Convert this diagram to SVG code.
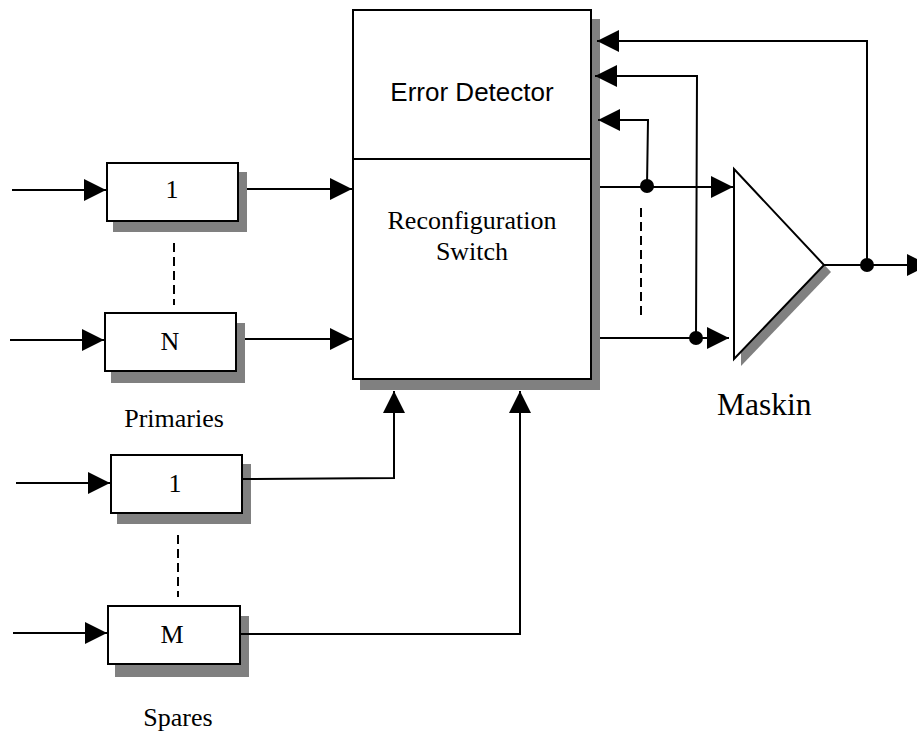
<svg xmlns="http://www.w3.org/2000/svg" width="917" height="733" viewBox="0 0 917 733">
<style>
.box{fill:#fff;stroke:#000;stroke-width:2}
.shadow{fill:#808080;stroke:none}
.ln{fill:none;stroke:#000;stroke-width:2}
.dash{fill:none;stroke:#000;stroke-width:2;stroke-dasharray:9,5}
.dot{fill:#000}
.tr{font-family:"Liberation Serif","Times New Roman",serif;font-size:26px;fill:#000}
.ar{font-family:"Liberation Sans",Arial,sans-serif;font-size:26px;fill:#000}
</style>
<defs>
<marker id="arr" markerUnits="userSpaceOnUse" markerWidth="22" markerHeight="22" refX="22" refY="11" orient="auto" viewBox="0 0 22 22">
<path d="M0,0 L22,11 L0,22 z" fill="#000"/>
</marker>
</defs>
<rect width="917" height="733" fill="#fff"/>
<g id="main">
<rect class="shadow" x="360" y="19" width="240" height="371"/>
<rect class="box" x="353" y="10" width="238" height="369"/>
<line class="ln" x1="353" y1="159" x2="591" y2="159"/>
<text class="ar" x="472" y="101" text-anchor="middle">Error Detector</text>
<text class="tr" x="472" y="229" text-anchor="middle">Reconfiguration</text>
<text class="tr" x="472" y="260" text-anchor="middle">Switch</text>
</g>
<g id="p1">
<rect class="shadow" x="113" y="172" width="134" height="60"/>
<rect class="box" x="107" y="163" width="131" height="58"/>
<text class="tr" x="172" y="198" text-anchor="middle">1</text>
</g>
<g id="pN">
<rect class="shadow" x="111" y="323" width="134" height="60"/>
<rect class="box" x="105" y="313" width="131" height="58"/>
<text class="tr" x="170" y="350" text-anchor="middle">N</text>
</g>
<g id="s1">
<rect class="shadow" x="117" y="464" width="134" height="60"/>
<rect class="box" x="111" y="455" width="131" height="58"/>
<text class="tr" x="175" y="492" text-anchor="middle">1</text>
</g>
<g id="sM">
<rect class="shadow" x="115" y="616" width="134" height="61"/>
<rect class="box" x="108" y="606" width="132" height="58"/>
<text class="tr" x="172" y="643" text-anchor="middle">M</text>
</g>
<g id="voter">
<polygon class="shadow" points="741,176 831,272 741,366"/>
<polygon class="box" points="734,169 824,265 734,359"/>
</g>
<g id="labels">
<text class="tr" x="174" y="427" text-anchor="middle">Primaries</text>
<text class="tr" x="178" y="726" text-anchor="middle">Spares</text>
<text class="tr" x="717" y="415" style="font-size:31.5px">Maskin</text>
</g>
<g id="connectors">
<line class="ln" x1="12" y1="190" x2="106" y2="190" marker-end="url(#arr)"/>
<line class="ln" x1="247" y1="189" x2="352" y2="189" marker-end="url(#arr)"/>
<line class="ln" x1="10" y1="340" x2="104" y2="340" marker-end="url(#arr)"/>
<line class="ln" x1="245" y1="339" x2="352" y2="339" marker-end="url(#arr)"/>
<line class="ln" x1="16" y1="483" x2="110" y2="483" marker-end="url(#arr)"/>
<line class="ln" x1="13" y1="633" x2="107" y2="633" marker-end="url(#arr)"/>
<polyline class="ln" points="243,479 394,478 394,391" marker-end="url(#arr)"/>
<polyline class="ln" points="240,634 520,634 520,391" marker-end="url(#arr)"/>
<line class="dash" x1="174" y1="243" x2="174" y2="305"/>
<line class="dash" x1="178" y1="535" x2="178" y2="597"/>
<line class="ln" x1="600" y1="187" x2="733" y2="187" marker-end="url(#arr)"/>
<line class="ln" x1="600" y1="338" x2="729" y2="338" marker-end="url(#arr)"/>
<line class="dash" x1="641" y1="208" x2="641" y2="320"/>
<polyline class="ln" points="647,186 648,120 598,120" marker-end="url(#arr)"/>
<polyline class="ln" points="696,338 697,76 595,76" marker-end="url(#arr)"/>
<polyline class="ln" points="867,265 867,41 597,41" marker-end="url(#arr)"/>
<line class="ln" x1="824" y1="265" x2="929" y2="265" marker-end="url(#arr)"/>
<circle class="dot" cx="647" cy="186" r="7"/>
<circle class="dot" cx="696" cy="338" r="7"/>
<circle class="dot" cx="867" cy="265" r="7"/>
</g>
</svg>
